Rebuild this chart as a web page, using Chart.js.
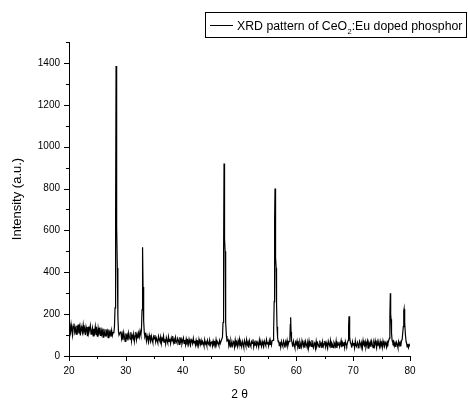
<!DOCTYPE html>
<html>
<head>
<meta charset="utf-8">
<script src="https://cdn.jsdelivr.net/npm/chart.js@4"></script>
<style>
  html, body { margin: 0; padding: 0; background: #fff; }
  #wrap { width: 468px; height: 401px; }
</style>
</head>
<body>
<div id="wrap"><canvas id="c" width="468" height="401"></canvas></div>
<script>
// ---- data ----
const seriesLabelMain = "XRD pattern of CeO";
const seriesLabelSub = "2";
const seriesLabelRest = ":Eu doped phosphor";
const xTitle = "2 \u03B8";
const yTitle = "Intensity (a.u.)";
const xTickValues = [20, 30, 40, 50, 60, 70, 80];
const yTickValues = [0, 200, 400, 600, 800, 1000, 1200, 1400];

// diffraction peaks (2θ, counts)
const peakTheta = [
  27.9, 28, 28.1, 28.2, 28.28, 28.35, 28.42, 28.5, 28.6, 28.7, 28.8, 29,
  32.65, 32.75, 32.85, 32.92, 32.97, 33.03, 33.1, 33.17, 33.25, 33.35,
  46.9, 47, 47.1, 47.2, 47.28, 47.34, 47.4, 47.47, 47.53, 47.6, 47.7, 47.8,
  55.9, 56, 56.1, 56.18, 56.25, 56.31, 56.38, 56.45, 56.52, 56.6, 56.7, 56.8,
  58.87, 58.94, 59, 59.07, 59.15,
  69.12, 69.2, 69.27, 69.34, 69.42, 69.52,
  76.38, 76.46, 76.54, 76.6, 76.67, 76.75, 76.85, 77,
  78.82, 78.9, 78.96, 79.03, 79.1, 79.2, 79.32
];
const peakCounts = [
  115, 140, 230, 650, 1385, 1150, 620, 420, 190, 120, 100, 112,
  100, 125, 220, 430, 520, 330, 300, 170, 110, 92,
  70, 90, 160, 480, 920, 820, 560, 500, 300, 160, 95, 72,
  75, 110, 260, 650, 800, 620, 470, 420, 250, 140, 90, 68,
  85, 150, 185, 115, 75,
  75, 145, 190, 130, 90, 62,
  85, 190, 300, 200, 175, 110, 75, 62,
  140, 215, 225, 170, 160, 100, 68
];

// noisy background between the peaks, one reading every 0.125° from each start angle
const scanStep = 0.125;
const bgStarts = [20, 29.125, 33.5, 48, 56.875, 59.25, 69.625, 77.125, 79.375];
const bg20 = [
  158, 128, 110, 150, 122, 98, 140, 155, 115, 132,
  104, 145, 120, 150, 108, 136, 98, 142, 125, 110,
  148, 118, 130, 100, 139, 122, 95, 140, 112, 128,
  146, 104, 118, 135, 96, 130, 112, 140, 100, 122,
  92, 134, 110, 125, 98, 136, 105, 120, 90, 130,
  112, 96, 128, 104, 118, 88, 126, 100, 115, 92,
  122, 98, 112
];
const bg29 = [
  118, 84, 104, 76, 112, 92, 70, 108, 86, 100,
  74, 110, 90, 80, 114, 72, 98, 88, 106, 70,
  96, 115, 78, 102, 84, 110, 92, 120
];
const bg33 = [
  104, 72, 96, 80, 66, 100, 84, 70, 95, 78,
  64, 92, 82, 100, 68, 86, 74, 62, 94, 80,
  70, 90, 60, 84, 76, 96, 66, 80, 58, 88,
  74, 62, 92, 70, 82, 60, 86, 72, 95, 64,
  78, 58, 88, 70, 62, 84, 74, 56, 90, 68,
  80, 58, 72, 86, 60, 76, 54, 82, 66, 74,
  56, 80, 64, 52, 78, 70, 58, 84, 62, 72,
  52, 76, 60, 68, 50, 80, 64, 56, 74, 52,
  70, 62, 48, 78, 58, 66, 50, 74, 60, 54,
  76, 52, 64, 70, 48, 72, 58, 66, 50, 78,
  56, 68, 62, 50, 74, 60, 70
];
const bg48 = [
  78, 52, 66, 44, 74, 58, 48, 70, 62, 42,
  76, 54, 64, 46, 72, 56, 80, 50, 60, 44,
  70, 58, 42, 74, 62, 48, 78, 54, 66, 40,
  72, 56, 46, 68, 60, 80, 44, 64, 52, 74,
  48, 66, 58, 42, 76, 54, 62, 46, 70, 56,
  44, 72, 60, 50, 78, 58, 66, 48, 74, 56,
  68, 52, 74
];
const bg57 = [74, 50, 66, 42, 70, 56, 46, 72, 60, 40, 68, 54, 74, 48, 62, 70];
const bg59 = [
  64, 44, 70, 52, 38, 66, 56, 72, 46, 60,
  36, 68, 54, 42, 74, 58, 48, 64, 40, 70,
  56, 44, 66, 38, 72, 52, 60, 46, 76, 50,
  40, 64, 56, 36, 70, 48, 62, 54, 42, 74,
  52, 60, 38, 68, 46, 58, 72, 44, 64, 50,
  36, 70, 56, 48, 74, 42, 62, 54, 40, 66,
  58, 46, 72, 38, 60, 52, 68, 44, 56, 74,
  42, 62, 50, 66, 40, 70, 56, 48, 64
];
const bg70 = [
  58, 40, 68, 52, 62, 38, 72, 50, 44, 66,
  56, 36, 70, 60, 46, 64, 40, 74, 54, 48,
  68, 42, 58, 72, 38, 62, 50, 66, 44, 70,
  54, 40, 64, 48, 74, 56, 38, 68, 52, 60,
  44, 70, 50, 62, 40, 72, 56, 46, 66, 58,
  42, 68, 60, 74
];
const bg77 = [70, 48, 62, 44, 66, 56, 40, 68, 52, 64, 46, 72, 80];
const bg79 = [62, 44, 58, 40, 54, 48];
const bgSegments = [bg20, bg29, bg33, bg48, bg57, bg59, bg70, bg77, bg79];

// assemble the scan from the typed readings
const scan = [];
bgSegments.forEach((seg, s) => {
  seg.forEach((c, i) => scan.push({ x: +(bgStarts[s] + i * scanStep).toFixed(3), y: c }));
});
peakTheta.forEach((t, i) => scan.push({ x: t, y: peakCounts[i] }));
scan.sort((a, b) => a.x - b.x);

const FONT = "'Liberation Sans', Arial, sans-serif";

// tick marks (major + minor) pointing outward from the axis lines
const tickMarks = {
  id: 'tickMarks',
  afterDraw(chart) {
    const ctx = chart.ctx;
    const xs = chart.scales.x, ys = chart.scales.y;
    const area = chart.chartArea;
    ctx.save();
    ctx.strokeStyle = '#000';
    ctx.lineWidth = 1;
    ctx.beginPath();
    for (let v = xs.min; v <= xs.max + 1e-9; v += 5) {
      const px = Math.round(xs.getPixelForValue(v)) + 0.5;
      const len = xTickValues.includes(v) ? 5 : 3;
      ctx.moveTo(px, area.bottom);
      ctx.lineTo(px, area.bottom + len);
    }
    for (let v = ys.min; v <= ys.max + 1e-9; v += 100) {
      const py = Math.round(ys.getPixelForValue(v)) + 0.5;
      const len = yTickValues.includes(v) ? 5 : 3;
      ctx.moveTo(area.left, py);
      ctx.lineTo(area.left - len, py);
    }
    ctx.stroke();
    ctx.restore();
  }
};

// boxed legend with a subscript, as in the reference
const boxLegend = {
  id: 'boxLegend',
  afterDraw(chart) {
    const ctx = chart.ctx;
    const ds = chart.data.datasets[0];
    ctx.save();
    ctx.strokeStyle = '#000';
    ctx.lineWidth = 1;
    ctx.strokeRect(205.5, 12.5, 261, 25);
    ctx.beginPath();
    ctx.strokeStyle = ds.borderColor;
    ctx.moveTo(210, 25.5);
    ctx.lineTo(233, 25.5);
    ctx.stroke();
    ctx.fillStyle = '#000';
    ctx.textBaseline = 'alphabetic';
    ctx.font = '12.3px ' + FONT;
    let x = 237;
    const base = 29.5;
    ctx.fillText(seriesLabelMain, x, base);
    x += ctx.measureText(seriesLabelMain).width;
    ctx.font = '7.5px ' + FONT;
    ctx.fillText(seriesLabelSub, x + 0.5, base + 4);
    x += ctx.measureText(seriesLabelSub).width + 0.5;
    ctx.font = '12.3px ' + FONT;
    ctx.fillText(seriesLabelRest, x, base);
    ctx.restore();
  }
};

new Chart(document.getElementById('c'), {
  type: 'line',
  data: {
    datasets: [{
      label: seriesLabelMain + seriesLabelSub + seriesLabelRest,
      data: scan,
      borderColor: '#000',
      borderWidth: 1.2,
      pointRadius: 0,
      tension: 0,
      fill: false
    }]
  },
  options: {
    responsive: false,
    animation: false,
    devicePixelRatio: 1,
    parsing: false,
    layout: { padding: { top: 42, right: 58, bottom: 0, left: 0 } },
    plugins: {
      legend: { display: false },
      tooltip: { enabled: false }
    },
    scales: {
      x: {
        type: 'linear',
        min: 20,
        max: 80,
        grid: { display: false, drawTicks: false, tickLength: 0 },
        border: { display: true, color: '#000', width: 1 },
        ticks: {
          stepSize: 10,
          autoSkip: false,
          maxRotation: 0,
          padding: 9,
          color: '#000',
          font: { family: FONT, size: 10 },
          callback: v => (xTickValues.includes(v) ? String(v) : '')
        },
        title: {
          display: true,
          text: xTitle,
          color: '#000',
          font: { family: FONT, size: 12, lineHeight: 1 },
          padding: { top: 0, bottom: 0 }
        },
        afterFit: s => { s.height = 45; }
      },
      y: {
        min: 0,
        max: 1500,
        grid: { display: false, drawTicks: false, tickLength: 0 },
        border: { display: true, color: '#000', width: 1 },
        ticks: {
          stepSize: 100,
          autoSkip: false,
          padding: 9,
          color: '#000',
          font: { family: FONT, size: 10 },
          callback: v => (yTickValues.includes(v) ? String(v) : '')
        },
        title: {
          display: true,
          text: yTitle,
          color: '#000',
          font: { family: FONT, size: 13, lineHeight: 1 },
          padding: { top: 11, bottom: 0 }
        },
        afterFit: s => { s.width = 69; }
      }
    }
  }
  ,
  plugins: [tickMarks, boxLegend]
});
</script>
</body>
</html>
